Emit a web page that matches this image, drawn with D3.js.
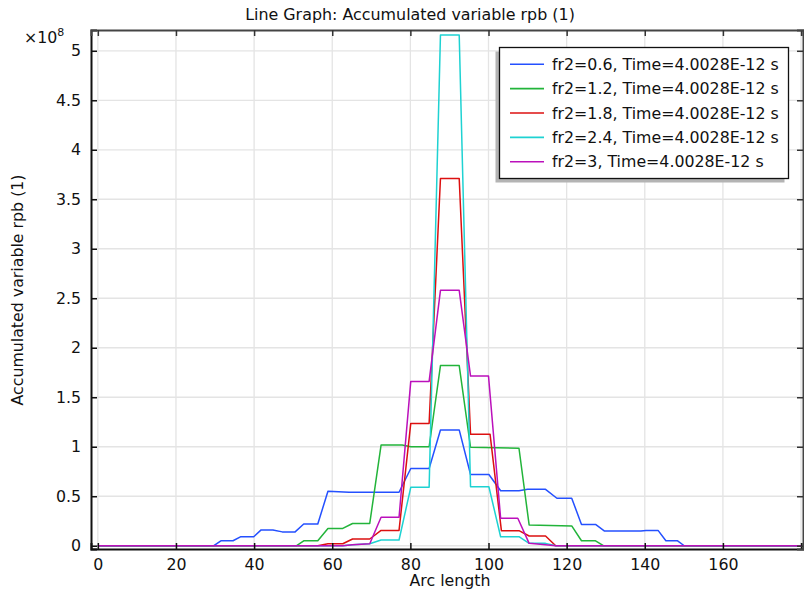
<!DOCTYPE html>
<html>
<head>
<meta charset="utf-8">
<script src="https://cdn.jsdelivr.net/npm/d3@7"></script>
<style>
  body { margin: 0; background: #fff; }
  text { font-family: "DejaVu Sans", sans-serif; fill: #111; }
</style>
</head>
<body>
<div id="graph"></div>
<script>
// Values (y in units of 1e8)
const seriesNames = ['fr2=0.6, Time=4.0028E-12 s', 'fr2=1.2, Time=4.0028E-12 s', 'fr2=1.8, Time=4.0028E-12 s', 'fr2=2.4, Time=4.0028E-12 s', 'fr2=3, Time=4.0028E-12 s']
const seriesColors = ['#2450ff', '#22b43a', '#dc1010', '#1ed2d2', '#bb10bb']

const blueX = [0, 29.7, 31.5, 34.6, 36.5, 39.9, 41.8, 44.8, 47.2, 50.5, 52.7, 56.3, 58.9, 64.3, 77.1, 80.1, 84.8, 87.7, 92.5, 95.4, 100.1, 103.1, 107.8, 110, 114.6, 117.5, 121.3, 123.8, 127.4, 129.7, 139, 140.3, 143.4, 145.4, 148.4, 150.1, 180]
const blueY = [0, 0, 0.05, 0.05, 0.09, 0.09, 0.16, 0.16, 0.14, 0.14, 0.22, 0.22, 0.55, 0.54, 0.54, 0.78, 0.78, 1.17, 1.17, 0.72, 0.72, 0.555, 0.555, 0.57, 0.57, 0.48, 0.48, 0.215, 0.215, 0.148, 0.148, 0.155, 0.155, 0.05, 0.05, 0, 0]

const greenX = [0, 50.9, 52.7, 56.3, 58.9, 62.7, 65.2, 69.6, 72.5, 77.9, 80.1, 84.8, 87.7, 92.5, 95.4, 107.8, 110.4, 121.3, 123.8, 127.4, 129.4, 180]
const greenY = [0, 0, 0.05, 0.05, 0.175, 0.175, 0.225, 0.225, 1.017, 1.017, 1.0, 1.0, 1.82, 1.82, 0.995, 0.985, 0.21, 0.2, 0.05, 0.05, 0, 0]

const redX = [0, 56.3, 58.9, 62.7, 65.2, 69.6, 72.5, 77.1, 80.1, 84.8, 87.7, 92.5, 95.4, 100.4, 103.3, 107.8, 110.4, 114.6, 117.2, 180]
const redY = [0, 0, 0.02, 0.02, 0.068, 0.068, 0.155, 0.155, 1.236, 1.236, 3.71, 3.71, 1.125, 1.125, 0.152, 0.152, 0.098, 0.098, 0, 0]

const cyanX = [0, 62.7, 65.2, 69.6, 72.5, 77.1, 80.1, 84.8, 87.7, 92.5, 95.4, 100.1, 103.1, 107.8, 110.4, 114.6, 117.2, 180]
const cyanY = [0, 0, 0.01, 0.02, 0.058, 0.058, 0.59, 0.59, 5.16, 5.16, 0.596, 0.596, 0.091, 0.091, 0.024, 0.024, 0, 0]

const magentaX = [0, 62.7, 65.2, 69.6, 72.5, 77.1, 80.1, 84.8, 87.7, 92.5, 95.4, 100, 103.1, 107.5, 110.4, 114.6, 117.2, 180]
const magentaY = [0, 0, 0.01, 0.02, 0.287, 0.287, 1.66, 1.66, 2.58, 2.58, 1.714, 1.714, 0.277, 0.277, 0.024, 0.01, 0, 0]

const xTicks = [0, 20, 40, 60, 80, 100, 120, 140, 160, 180]
const xTickLabels = ['0', '20', '40', '60', '80', '100', '120', '140', '160', '']
const yTicks = [0, 0.5, 1, 1.5, 2, 2.5, 3, 3.5, 4, 4.5, 5]

const allX = [blueX, greenX, redX, cyanX, magentaX]
const allY = [blueY, greenY, redY, cyanY, magentaY]

// Setting up the graph
total_width = 804
total_height = 593
margins = { top: 30, left: 91, right: 1, bottom: 44 }
width = total_width - margins.left - margins.right
height = total_height - margins.top - margins.bottom

svg = d3.select('#graph').append('svg')
  .attr('width', total_width)
  .attr('height', total_height)

g = svg.append('g')
  .attr('transform', `translate(${margins.left}, ${margins.top})`)

x = d3.scaleLinear().domain([-1.75, 180.5]).range([0, width])
y = d3.scaleLinear().domain([-0.033, 5.21]).range([height, 0])

// grid
g.append('g').selectAll('line').data(xTicks).enter().append('line')
  .attr('x1', d => x(d)).attr('x2', d => x(d))
  .attr('y1', 0).attr('y2', height)
  .attr('stroke', '#e4e4e4').attr('stroke-width', 1.3)
g.append('g').selectAll('line').data(yTicks).enter().append('line')
  .attr('x1', 0).attr('x2', width)
  .attr('y1', d => y(d)).attr('y2', d => y(d))
  .attr('stroke', '#e4e4e4').attr('stroke-width', 1.3)

// lines
g.append('clipPath').attr('id', 'clip').append('rect')
  .attr('width', width).attr('height', height)

line = d3.line()
  .x(d => x(d[0]))
  .y(d => y(d[1]))

for (let i = 0; i < seriesNames.length; i++) {
  let pts = allX[i].map((v, j) => [v, allY[i][j]])
  g.append('path')
    .datum(pts)
    .attr('clip-path', 'url(#clip)')
    .attr('fill', 'none')
    .attr('stroke', seriesColors[i])
    .attr('stroke-width', 1.5)
    .attr('stroke-linejoin', 'round')
    .attr('d', line)
}

// axes (ticks point inward, like the original)
xAxisCall = d3.axisBottom(x).tickValues(xTicks).tickSize(-6).tickPadding(10)
  .tickFormat((d, i) => xTickLabels[i])
xAxis = g.append('g').attr('transform', `translate(0, ${height})`).call(xAxisCall)
yAxisCall = d3.axisLeft(y).tickValues(yTicks).tickSize(-6).tickPadding(10)
  .tickFormat(d => d3.format('~g')(d))
yAxis = g.append('g').call(yAxisCall)
topAxis = g.append('g').call(d3.axisTop(x).tickValues(xTicks).tickSize(-6).tickFormat(''))
rightAxis = g.append('g').attr('transform', `translate(${width}, 0)`)
  .call(d3.axisRight(y).tickValues(yTicks).tickSize(-6).tickFormat(''))

;[xAxis, yAxis].forEach(a => {
  a.select('.domain').attr('stroke', '#111').attr('stroke-width', 2)
  a.selectAll('.tick line').attr('stroke', '#111').attr('stroke-width', 1.5)
  a.selectAll('.tick text').style('font-size', '15.8px').attr('fill', '#111')
})
;[topAxis, rightAxis].forEach(a => {
  a.select('.domain').attr('stroke', '#444').attr('stroke-width', 2)
  a.selectAll('.tick line').attr('stroke', '#333').attr('stroke-width', 1.5)
})

// titles
svg.append('text')
  .attr('x', 410).attr('y', 20)
  .attr('text-anchor', 'middle')
  .style('font-size', '15.9px')
  .text('Line Graph: Accumulated variable rpb (1)')

svg.append('text')
  .attr('x', 450).attr('y', 586)
  .attr('text-anchor', 'middle')
  .style('font-size', '15.8px')
  .text('Arc length')

svg.append('text')
  .attr('transform', 'translate(23, 290) rotate(-90)')
  .attr('text-anchor', 'middle')
  .style('font-size', '15.8px')
  .text('Accumulated variable rpb (1)')

let mult = svg.append('text')
  .attr('x', 24).attr('y', 43)
  .style('font-size', '15.8px')
mult.append('tspan').text('×10')
mult.append('tspan').attr('dy', -7).style('font-size', '11px').text('8')

// legend
legend = svg.append('g')
legend.append('rect')
  .attr('x', 495.5).attr('y', 51.5).attr('width', 289).attr('height', 131)
  .attr('fill', '#b4b4b4')
legend.append('rect')
  .attr('x', 499.5).attr('y', 47.5).attr('width', 289).attr('height', 131)
  .attr('fill', '#fff').attr('stroke', '#111').attr('stroke-width', 1.3)

for (let i = 0; i < seriesNames.length; i++) {
  let ly = 64.3 + i * 24.35
  legend.append('line')
    .attr('x1', 510).attr('x2', 544)
    .attr('y1', ly).attr('y2', ly)
    .attr('stroke', seriesColors[i]).attr('stroke-width', 1.6)
  legend.append('text')
    .attr('x', 552).attr('y', ly + 5.6)
    .style('font-size', '15.8px')
    .text(seriesNames[i])
}
</script>
</body>
</html>
